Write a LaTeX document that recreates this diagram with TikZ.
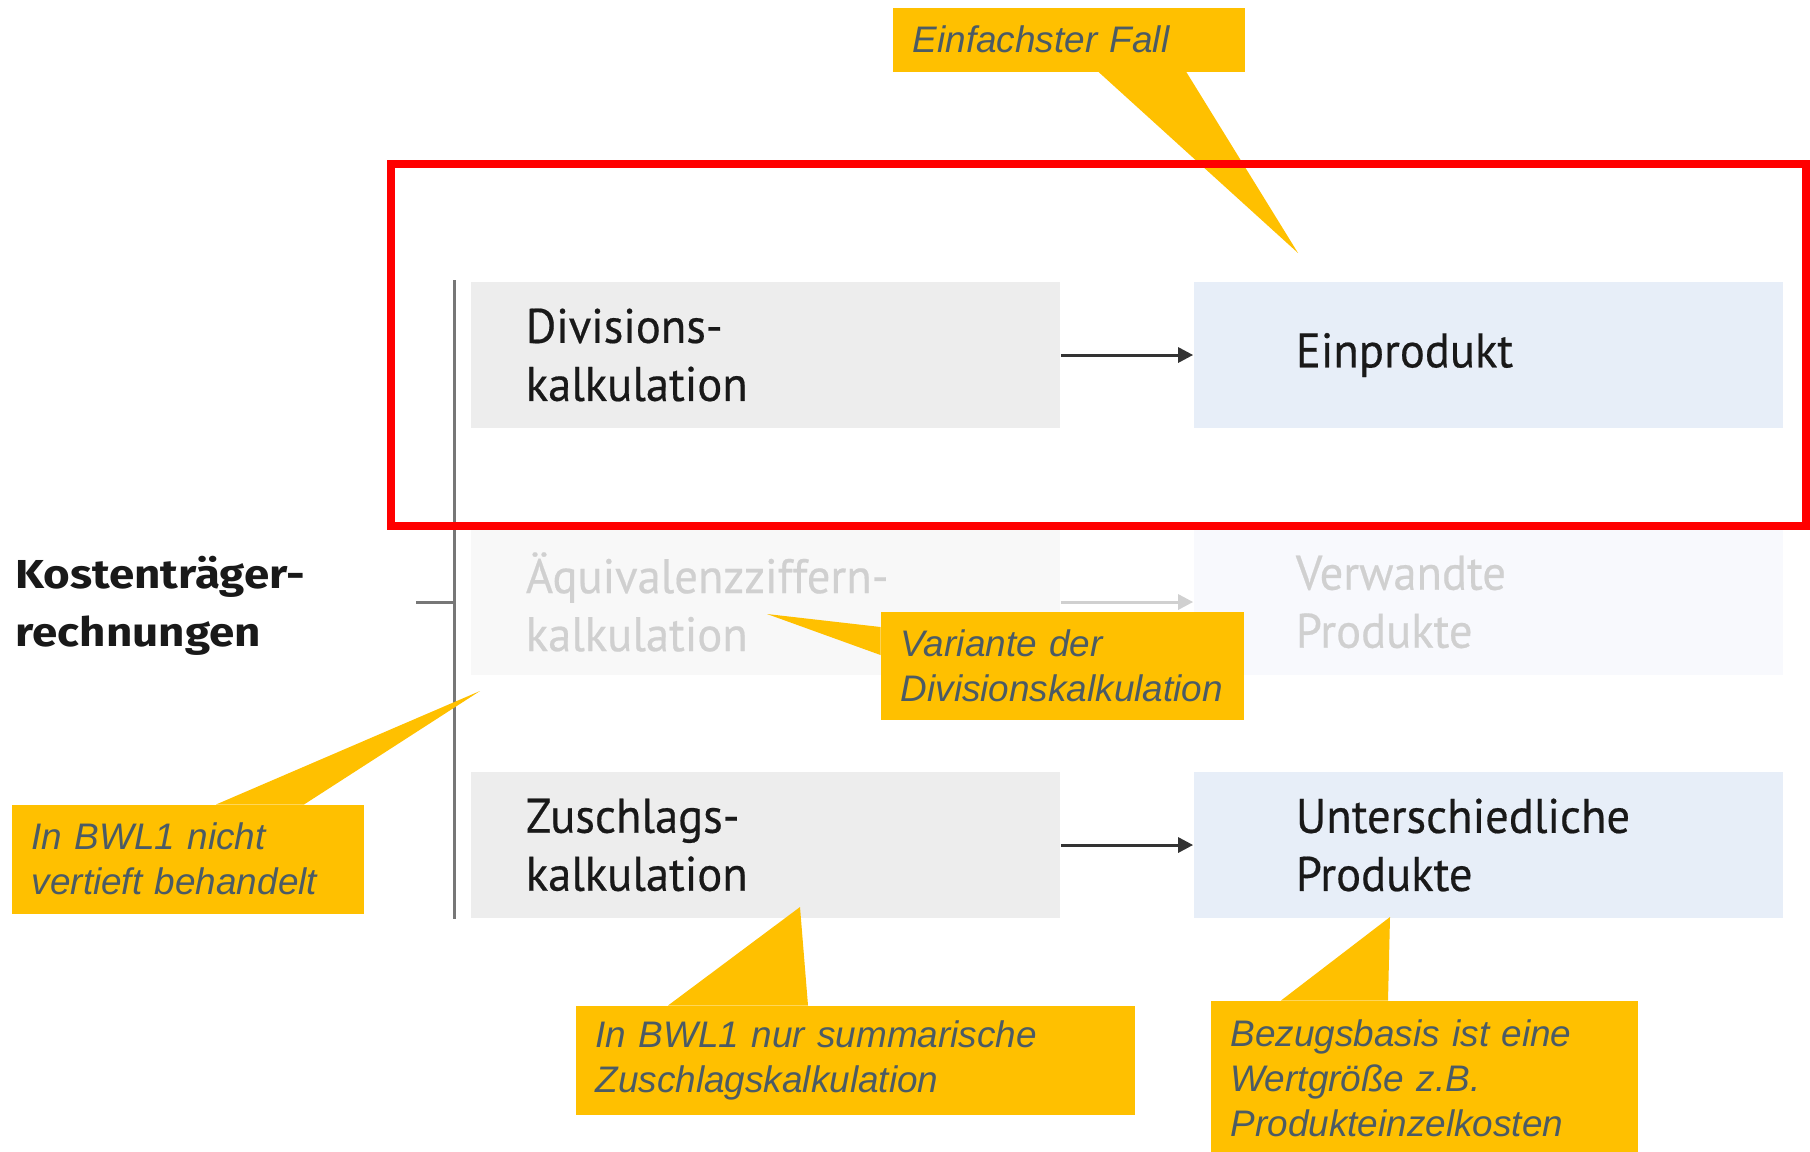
\documentclass[tikz,border=0pt]{standalone}
\usepackage{fontspec}
\usepackage{xcolor}
\usepackage{tikz}
\usetikzlibrary{shapes,arrows.meta}
\setmainfont{Liberation Sans}
\newfontfamily\boxfont[FakeStretch=0.96, FakeBold=0.4]{PT Sans}
\newfontfamily\titelfont[FakeStretch=1.13]{Fira Sans}
\newfontfamily\hinfont{Liberation Sans}
\definecolor{grau}{HTML}{EDEDED}
\definecolor{hblau}{HTML}{E7EEF8}
\definecolor{blass}{HTML}{F8F8F8}
\definecolor{blassblau}{HTML}{F8F9FD}
\definecolor{blasstext}{HTML}{D0D0D0}
\definecolor{gelb}{HTML}{FFC000}
\definecolor{schiefer}{HTML}{4B5B65}
\definecolor{achsgrau}{HTML}{777777}

\begin{document}
\begin{tikzpicture}[x=0.01cm, y=-0.01cm,
    box/.style={rectangle, minimum width=5.89cm, minimum height=1.46cm, text width=4.79cm, inner xsep=0.55cm, inner ysep=0pt, align=left, text=black!90, font=\boxfont\fontsize{13.8}{16.5}\selectfont},
    rbox/.style={box, text width=3.85cm, inner xsep=1.02cm},
    pfeil/.style={-{Triangle[length=0.15cm, width=0.15cm]}, line width=0.03cm, draw=black!80},
    achse/.style={line width=0.03cm, draw=achsgrau},
    hinweis/.style={rectangle, fill=gelb, anchor=north west, inner xsep=0.2cm, inner ysep=0pt, align=left, text=schiefer, font=\hinfont\itshape\fontsize{10.5}{12.8}\selectfont}]
    		\useasboundingbox (0,0) rectangle (1810,1151);
    		
    		\node (d)[box, fill=grau] at (765.5,355) {Divisions-\\kalkulation};
    		\node (e)[rbox, fill=hblau] at (1488.5,355) {Einprodukt};
    		\node (q)[box, fill=blass, text=blasstext] at (765.5,602) {Äquivalenzziffern-\\kalkulation};
    		\node (v)[rbox, fill=blassblau, text=blasstext] at (1488.5,602) {Verwandte\\Produkte};
    		\node (z)[box, fill=grau] at (765.5,845) {Zuschlags-\\kalkulation};
    		\node (u)[rbox, fill=hblau] at (1488.5,845) {Unterschiedliche\\Produkte};
    		\node (k)[anchor=west, inner sep=0pt, align=left, text=black!90, font=\titelfont\bfseries\fontsize{11.5}{16.5}\selectfont] at (15,606) {Kostenträger-\\rechnungen};
    		
    		\draw[pfeil] (d) -- (e);
    		\draw[pfeil, draw=blasstext] (q) -- (v);
    		\draw[pfeil] (z) -- (u);
    		
    		\coordinate (oben) at (454,280);
    		\coordinate (unten) at (454,919);
    		\coordinate (mitte) at (454,602);
    		\coordinate (links) at (416,602);
    		\draw[achse] (oben) -- (unten);
    		\draw[achse] (links) -- (mitte);
    		
    		\node (h1)[hinweis, minimum width=3.52cm, minimum height=0.64cm, text width=3.12cm] at (892,7) {Einfachster Fall};
    		\node (h2)[hinweis, minimum width=3.63cm, minimum height=1.08cm, text width=3.23cm] at (880,611) {Variante der\\Divisionskalkulation};
    		\node (h3)[hinweis, minimum width=3.52cm, minimum height=1.09cm, text width=3.12cm] at (11,804) {In BWL1 nicht\\vertieft behandelt};
    		\node (h4)[hinweis, minimum width=5.59cm, minimum height=1.09cm, text width=5.19cm] at (575,1005) {In BWL1 nur summarische\\Zuschlagskalkulation};
    		\node (h5)[hinweis, minimum width=4.27cm, minimum height=1.56cm, text width=3.87cm] at (1210,1000) {Bezugsbasis ist eine\\Wertgröße z.B.\\Produkteinzelkosten};
    		
    		\coordinate (s1) at (1298,253);
    		\coordinate (s2) at (767,614);
    		\coordinate (s3) at (480,691);
    		\coordinate (s4) at (800,907);
    		\coordinate (s5) at (1390,917);
    		\fill[gelb] (1098,71.5) -- (s1) -- (1186,71.5) -- cycle;
    		\fill[gelb] (880.5,627) -- (s2) -- (880.5,655) -- cycle;
    		\fill[gelb] (216,804.5) -- (s3) -- (304,804.5) -- cycle;
    		\fill[gelb] (668,1005.5) -- (s4) -- (808,1005.5) -- cycle;
    		\fill[gelb] (1281,1000.5) -- (s5) -- (1388,1000.5) -- cycle;
    		
    		\coordinate (r1) at (391,164);
    		\coordinate (r2) at (1806,526);
    		\draw[red, line width=0.08cm] (r1) rectangle (r2);
\end{tikzpicture}
\end{document}
